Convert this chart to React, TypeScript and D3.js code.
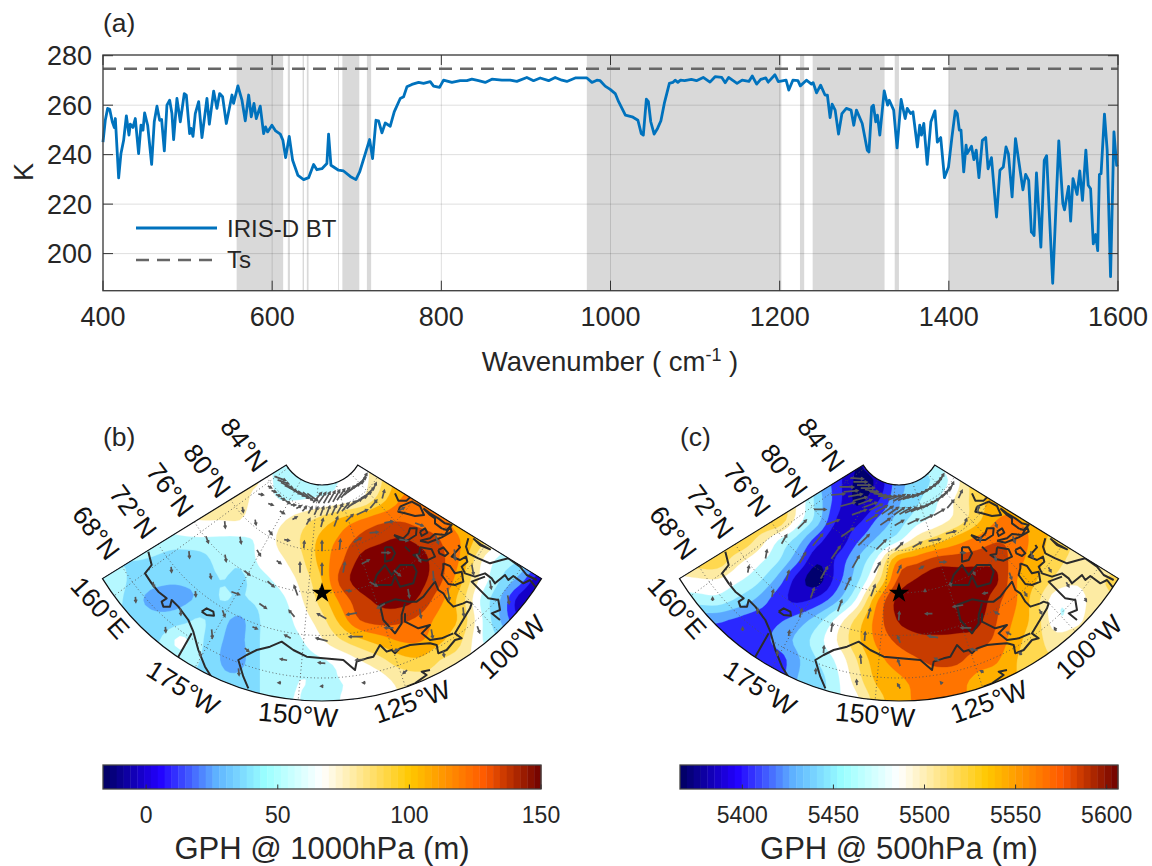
import React from "react";
import * as d3 from "d3";

// ---------- panel (a) data: wavenumber (cm-1) and brightness temperature (K) ----------
const wnLow = [400,402.7,405.5,407.9,411,413.4,414.6,418.5,421.2,424.4,427.6,430.7,432.3,435.4,438.2,442.1,444.9,447.3,449.2,452.8,457.5,460.6,463.8,467,469.3,472.5,475.6,478.8,481.5,483.5,487.4,491.4,496.1,498.5,502.4,504,506.4,509.1,513.1,517,522.9,525.7,530.8,534.7,537.9,541.4,545.8,552.5,554.4,559.5,564.3,568.2,572.2,575.3,578.5,581.2,585.9,589.9,592.2,594.6,599.7,604.1,609.6,612.7,615.9,620.2,624.2,630.5,637.2,643.1,649,652.9,658.8,664.7,666.7,669.5,678.5,684.4,692.3,699,703.4,715.2,718.7,722.7,725.8,729.8,733.7,739.6,744.3,751.4,755.4,759.3,765.2,773.1,779,786.9,790.8,797.9,802.6,812.5,822.3,830.2,836.1,844,851.9,859.8,871.6,881.4,889.3,901.1,909,916.9,926.8,934.6,942.5,948.4,958.3,972.1,978,983.9,987.8,993.7];
const btLow = [245.1,253.9,258.7,258.3,253.3,251,254.6,230.6,240.4,245.8,255.7,247.9,252.3,251,254.6,240.4,251.9,249.9,256.9,251.9,236.1,253.3,259.6,253.9,254.2,241.5,260,262,256.6,246.1,262.7,253.3,264.7,264.1,248.5,250.6,247.4,256.6,261.4,246.9,262.7,252.3,265.7,258.7,264.7,263.4,252.6,264.1,260.7,267.8,262,253.7,264.1,255.3,260.7,254.6,259.6,248.5,251.2,249.2,251.9,249.6,248.3,245.8,238.8,247.4,237.7,231.6,229.9,230.7,236,233.9,234.3,236.4,248.3,235.7,233.7,233.4,231.2,229.9,233,246.1,238.4,253.9,253.7,248.8,252.8,251.5,257.3,262.7,263.4,267.4,268.4,269.2,268.8,269.5,267.7,267.2,270.1,269.2,269.9,269.9,270.5,269.9,269.2,270.5,270.1,270.1,269.6,271.2,269.9,271,269.9,271.2,270.1,269.6,271,271,269.2,270.1,269.9,267.7];
const wnHigh = [999.6,1005.6,1009.6,1017.6,1025.6,1032.4,1036.4,1038.8,1042.4,1044.8,1047.6,1051.6,1055.6,1059.6,1063.6,1069.6,1073.6,1076.4,1079.6,1082.8,1087.6,1095.6,1101.6,1109.6,1117.6,1123.6,1131.6,1135.6,1139.6,1149.6,1155.6,1163.6,1167.6,1172.8,1177.6,1183.6,1186.4,1194.4,1198.4,1207.6,1210.8,1215.6,1221.6,1224.4,1231.6,1237.6,1239.6,1243.6,1248.4,1253.6,1256.4,1259.6,1262,1265.6,1269.6,1273.6,1278.8,1284.4,1287.6,1290.8,1297.6,1303.6,1305.6,1308.8,1310.8,1313.6,1315.6,1318.4,1323.6,1327.6,1329.6,1334.8,1338.8,1343.6,1348.4,1350.8,1354.8,1357.6,1362.8,1365.6,1367.6,1370.4,1374.4,1378.8,1383.6,1386.4,1390.4,1394.8,1399.6,1403.6,1407.6,1410,1412.4,1414.4,1417.6,1420.4,1421.6,1426.8,1429.6,1432.4,1435.6,1439.6,1443.6,1446.4,1450.4,1456.4,1460.4,1464.4,1467.6,1470.4,1474.8,1478.8,1487.6,1490.8,1494.4,1497.6,1499.6,1500.8,1503.6,1508.8,1512.8,1515.6,1522.8,1530,1534.8,1536.8,1541.6,1544,1546.8,1551.6,1554.8,1558,1562,1564.8,1567.6,1570.8,1573.6,1576,1578,1580,1584,1587.2,1591.2,1595.2,1598.4,1600];
const btHigh = [266.4,264.7,261.4,256,255.3,253.9,248.5,247.9,262.4,261.4,253.3,248.3,250.6,253.7,260.7,268.8,269.2,270.1,269.2,270.1,269.9,270.4,269.9,271.2,269.3,271.5,271.2,269.1,271.2,268.8,270.1,269.6,271.8,268.5,270.4,271,269.3,272.3,269.5,270.1,266.1,270.1,269.9,267.8,270.1,268.5,269.1,265,268.1,264.1,264.1,255,260.4,258,248.3,256.6,258.7,258,251.9,258,252.6,241.8,241.1,259.3,260,253.3,256,247.9,265.8,260,262,258,242.7,262.3,254.6,258.7,256.6,257.3,243.1,251.9,247.9,252.6,236.1,253.3,257.7,245.1,246.9,230.7,235,246.9,257.7,256.6,249.9,249.9,233,243.8,240.4,243.4,238,241.8,230.7,245.8,246.9,234.3,238.8,214.8,233.7,235,243.1,240.4,222.9,246.5,225.8,232,229.6,208.7,208,207.3,232.6,202.6,237.7,239.6,188,245.6,220.2,217.7,227.2,213.1,230.3,223.9,233.4,221.5,241.8,227.6,226.2,203.9,207.7,201.2,232,232.3,256.4,241.8,190.7,249.2,235.7,236];
const shadedWn = [[558,613],[618.5,621],[636,637.6],[641,643],[678,679],[683,703],[712,717],[972,1202],[1224,1229],[1239,1324],[1336,1341],[1400,1600]];
const surfaceTemp = 274.7;
const xTicks = [400,600,800,1000,1200,1400,1600];
const yTicks = [200,220,240,260,280];

// ---------- map data ----------
// Colour-band position of the height field on a regular map-unit grid (rows by y, columns by x)
const gridXStart = 30, gridYStart = 30, gridStep = 60;
const fieldB = [
[7,7,7,7,7,7,7,7,6.5,5.5,5,5,5.5,6.5,8,10,10,10,10,9,9,9,9],
[7,7,7,7,7,7,7,7,7,5.5,5.5,5.5,6,6.5,7.8,9.5,10,10,10,9,9,9,9],
[7,7,7,7,7,7,7,7.3,6.5,6,6,6.2,6.5,7,8.5,10,10.5,10.3,10,9,9,9,9],
[6.5,6.5,6.5,6.5,6.8,7,7,7,6.3,6.8,7.5,8.3,9.2,10,10.7,10.9,10.6,10.3,9.5,8.8,8,8,8],
[5.5,5.5,5.5,5.5,5.7,5.8,5.8,5.8,6.2,7.2,8,9.2,10.2,11.3,11.8,12.1,11.7,11,10,8.5,7,6,5.5],
[5,5,5,4.8,4.3,4.5,5.4,5.2,6.2,6.8,7.7,9.3,10.7,12.2,12.6,12.7,12.4,11.3,9.9,7.2,5.7,5,4],
[5.2,5.2,4.5,4.2,4.1,4.3,5,4.8,5.6,6.3,7.2,8.8,11.2,12.5,12.6,12.7,12.3,11.2,9.3,6.8,5,3.5,1.2],
[5.1,5.1,4.1,3.7,3.8,4.2,5,4.9,5.2,5.7,6.8,8.3,10.2,11.6,12.2,12.4,11.8,10.3,8.6,6,4,1.5,0.5],
[5,5,4.5,4.3,4.6,5.1,4.4,3.8,5,5.4,6.4,7.5,9.3,11,11.4,11.2,10.7,9.6,8.8,6.3,4,2,1],
[5,5,5,5,6.2,5.2,4.1,3.8,5,5.5,5.9,6.8,7.9,8.8,9.5,10.1,10.1,9.2,8.2,6.2,5,4,3],
[5,5,5,5,5.5,5,4,3.7,5,5.4,5.7,5.9,6.3,7,7.7,8.6,8.8,8,7.5,6.5,6,5,5],
[5,5,5,5,5,4.8,4.3,4.3,5,5.6,6,5.9,6,6.2,6.6,7.3,7.5,7.5,7,7,6,6,6],
[5,5,5,5,5,5,5,5,5,5.8,6,5.5,6,6.1,6.3,7,7,7,7,7,7,7,7],
];
const fieldC = [
[9,9,9,9,9,9,8,6,3,1,2.5,4,5,6,7.5,9,10,10,10,10,10,10,10],
[8.5,8.5,8.5,8.5,8.5,8.5,8,4.5,2.5,0.8,1.2,3.5,4.5,5.3,6.7,8.8,10,10,10,10,10,10,10],
[8.5,8.5,8.5,8.5,8.5,8.5,7,4.6,2.5,0.8,1.8,3.7,4.8,5.9,7.2,8.5,9.6,10,9.5,9,9,9,9],
[9,9,9,9,9,8.9,6.6,4.5,1.9,1.7,3.1,4.3,5.6,6.4,7.4,8.7,10,10,9.6,9,8.5,8.5,8.5],
[9,9,9,9,7.8,6.1,4.6,2.5,1.4,2.8,4.2,5.6,7.5,8.5,9.5,10.3,10.9,10.6,9.5,8.5,8,8,8],
[8.7,8.7,8.7,7.4,6.4,5.2,3.3,1.2,2.2,4,6.2,9.8,10.6,11.4,11.5,11.6,11.6,10.4,9.3,8.3,7.7,7.6,7.6],
[6.5,6.8,6.9,6.2,5.3,3.7,1.6,0.6,2.5,4.7,7.5,11,12.1,12.6,12.6,12.6,12.1,10,9,7.7,7.2,7.8,8.2],
[5.5,5.5,5.6,4.8,3.8,2.5,1.8,2.3,3.8,6.2,9.8,12.2,12.8,12.8,12.8,12.7,11.3,10,8.3,6.3,6.5,7.6,8],
[3.2,3.2,3.2,2.8,2.4,2.8,3.4,4.5,6.3,8.3,10.4,12,12.5,12.6,12.6,12.3,11,9.7,8.4,6.2,6.6,8,8],
[2.5,2.5,2.5,2.4,2.2,3.4,4.2,5.5,7,8.7,10.2,11.2,11.7,11.8,11.7,11.5,10.7,9.3,8.3,7.5,8,8,8],
[2.4,2.4,2.4,2.4,2.4,2.4,3.8,5,6.2,8,9.6,10.4,10.9,11.3,11.2,10.5,10.1,9,8.3,8,8,8,8],
[2.5,2.5,2.5,2.5,2.5,2.5,4,4.5,5.8,7.5,9.2,9.8,10.2,10.4,10.3,9.8,9.5,9,8.5,8,8,8,8],
[2.5,2.5,2.5,2.5,2.5,2.5,4,4.5,5.8,6.8,8.5,9.6,10.1,10.2,10.2,9.8,9.5,9,8.5,8,8,8,8],
];
const bandColors = ["#00006e","#1500c8","#2a28ff","#5aa8ff","#80dcff","#b5f8ff","#ffffff","#fdeba3","#ffd84f","#ffb000","#ff7400","#c83c00","#7f0000"];

// Coastlines in map units
const coasts: number[][][] = [
[[175,305],[185,345],[165,370],[185,400],[205,425],[230,445],[215,455],[220,470],[240,470],[245,450],[265,470],[295,510],[310,545],[325,600],[345,650],[370,690]],
[[305,550],[285,585],[265,620],[250,635]],
[[335,485],[350,475],[370,485],[372,497],[350,495],[335,485]],
[[475,715],[460,680],[445,630],[470,615],[500,600],[540,590],[575,575],[610,600],[650,620],[700,625],[760,630],[795,660],[800,635],[830,625],[850,620],[870,585],[890,605],[905,600],[915,610],[930,595],[960,585],[990,582],[1020,580],[1040,585],[1045,610],[1070,600],[1095,570],[1115,565],[1095,550],[1140,475],[1145,460],[1130,455],[1120,460],[1090,470],[1075,455],[1060,430],[1045,420],[1035,395],[1015,420],[1000,440],[980,455],[955,455],[915,448],[870,465],[880,510],[915,550],[935,520],[935,495],[945,460]],
[[945,490],[945,515],[985,535],[1020,525],[995,550],[1020,570],[1055,565],[1090,550]],
[[950,710],[975,700],[1010,675],[995,665],[1020,660]],
[[915,130],[925,152],[950,152],[960,142]],
[[930,170],[965,155],[990,168],[1002,195],[975,198],[945,190],[925,185],[930,170]],
[[1000,175],[1020,195],[1035,205],[1035,220],[1055,235],[1070,240],[1085,225],[1065,220],[1045,205],[1020,190],[1000,175]],
[[912,255],[940,265],[955,250],[960,235],[980,235],[978,255],[955,270],[930,270],[912,255]],
[[990,245],[1005,235],[1012,248],[995,258],[990,245]],
[[990,272],[1020,265],[1035,252],[1065,255],[1080,230],[1085,245],[1055,262],[1035,270],[1015,278],[990,272]],
[[990,292],[1025,298],[1035,320],[1010,332],[990,328],[970,315],[988,312],[990,292]],
[[1045,300],[1060,292],[1075,310],[1065,318],[1048,310],[1045,300]],
[[945,290],[960,305]],
[[885,292],[905,292],[915,310],[905,330],[885,335],[885,292]],
[[850,405],[860,375],[885,345],[905,375],[930,345],[970,345],[980,365],[970,400],[930,410],[915,378],[905,405],[850,405]],
[[1060,340],[1080,348],[1095,370],[1115,365],[1120,395],[1095,405],[1075,402],[1055,375],[1060,355],[1060,340]],
[[1135,265],[1128,290],[1135,310],[1165,325],[1200,340],[1235,330],[1255,325],[1290,350],[1310,375],[1340,390]],
[[1150,265],[1170,285],[1200,298],[1175,285],[1155,270]],
[[1105,285],[1110,292],[1085,320],[1110,330],[1128,320],[1132,335],[1115,350],[1125,370],[1155,380],[1185,370],[1205,385],[1215,400],[1245,375],[1255,390],[1270,378],[1300,400],[1320,390],[1340,415]],
[[1185,380],[1145,395],[1180,430],[1195,445],[1225,450],[1230,480],[1205,490],[1230,510]],
];
// Wind arrows: by ring (map-unit radius from the pole) and spoke (degrees from the central meridian)
const windRings = [240,310,380,450,520,590,660,730];
const windSpokes = [-50,-40,-30,-20,-10,0,10,20,30,40,50];
const windDirB = [
[100,110,120,60,30,15,20,45,65,40,15],
[170,170,140,100,5,0,5,60,85,80,60],
[175,170,150,125,0,0,10,60,90,100,110],
[160,170,130,130,-20,-30,100,120,130,150,160],
[175,170,110,125,-40,-60,-100,-120,170,175,175],
[175,175,160,115,-60,-75,-90,-90,170,170,170],
[170,175,175,130,-80,-85,-95,-110,170,175,170],
[175,175,175,175,-90,-90,-90,-130,170,160,170],
];
const windLenB = [
[15,15,15,15,20,25,30,30,35,30,25],
[15,15,15,15,20,30,30,25,25,25,20],
[20,20,20,15,30,35,30,25,25,25,25],
[20,20,20,25,30,25,15,25,25,25,25],
[20,15,25,25,25,30,30,25,25,30,30],
[15,15,20,15,20,35,40,25,25,35,30],
[15,20,25,15,20,20,25,15,25,25,25],
[15,15,15,20,8,6,8,15,15,20,25],
];
const windDirC = [
[85,75,70,60,55,60,65,65,60,40,25],
[90,70,55,45,45,45,60,80,75,20,10],
[45,40,35,30,30,25,60,90,90,10,160],
[30,30,30,25,20,10,0,160,150,170,160],
[10,15,20,20,15,5,-90,-100,-100,160,160],
[10,10,15,10,5,-20,-80,-90,-60,150,150],
[5,5,10,5,-5,-20,-60,-80,-60,150,150],
[0,0,5,0,-5,-30,-40,-60,-60,-30,150],
];
const windLenC = [
[40,45,45,40,35,30,35,40,35,30,25],
[35,40,45,45,40,30,30,35,30,20,20],
[35,45,45,40,35,25,15,20,15,15,15],
[30,35,40,40,35,20,5,10,10,15,20],
[25,30,30,35,30,25,20,30,15,20,20],
[20,20,25,25,25,20,30,30,15,15,15],
[10,15,15,20,25,20,15,20,15,15,15],
[10,10,15,15,15,15,5,10,10,10,10],
];
// Denser arrows close to the pole
const innerRings = [165,205];
const innerSpokes = [-50,-45,-40,-35,-30,-25,-20,-15,-10,-5,0,5,10,15,20,25,30,35,40,45,50];
const innerDirB = [
[110,110,115,115,120,120,125,130,125,40,35,30,30,30,35,40,50,55,60,50,30],
[120,110,110,115,120,90,60,40,30,25,20,20,25,30,40,50,60,65,60,45,25],
];
const innerLenB = [
[35,35,38,38,38,38,38,38,38,38,38,38,40,40,40,40,42,42,40,38,32],
[12,14,14,14,14,14,16,18,22,25,28,30,32,32,32,34,35,35,35,30,25],
];
const innerDirC = [
[95,90,90,90,100,105,100,90,80,70,60,65,70,70,65,60,55,55,50,40,30],
[90,85,80,75,70,70,65,60,55,55,55,60,65,65,65,60,60,55,50,40,25],
];
const innerLenC = [
[38,40,40,40,40,40,40,40,40,40,40,38,38,38,38,38,38,38,36,34,30],
[40,42,42,42,42,42,42,40,40,38,38,38,38,38,38,38,38,38,36,34,30],
];
const latCircles = [68,72,76,80,84];
const lonLines = [-200,-175,-150,-125,-100];
const latLabels = ["68°N","72°N","76°N","80°N","84°N"];
const latLabelX = [18,129,240,351,462];
const latLabelY = [249,186,120,63,-15];
const lonLabels = ["160°E","175°W","150°W","125°W","100°W"];
const lonLabelX = [30,279,624,966,1266];
const lonLabelY = [474,714,795,756,591];
const lonLabelRot = [48,32,5,-20,-43];
const starMap = [696,429];

const cbTicksB = [0,50,100,150];
const cbTicksC = [5400,5450,5500,5550,5600];
const cmapStops = [0,0.13,0.26,0.37,0.5,0.7,0.87,1];
const cmapColors = ["#00005f","#2200ff","#5fb4ff","#99ffff","#ffffff","#ffc800","#ff5a00","#6e0000"];

const FONT = "'Liberation Sans', Arial, sans-serif";
const INK = "#262626";

// Map geometry in map units
const poleX = 696, poleY = -21, rInner = 126, rOuter = 774, halfAngle = 58.3;
const radiusOfLat = d3.scaleLinear().domain([68,84]).range([705,195]);
const angleOfLon = d3.scaleLinear().domain([-200,-100]).range([-53.7,43.1]);
const rad = (d: number) => (d * Math.PI) / 180;

function smoothField(f: number[][], k: number) {
  const rows = f.length, cols = f[0].length;
  const at = (j: number, i: number) => f[Math.max(0, Math.min(rows - 1, j))][Math.max(0, Math.min(cols - 1, i))];
  const cr = (p0: number, p1: number, p2: number, p3: number, t: number) =>
    0.5 * (2 * p1 + (p2 - p0) * t + (2 * p0 - 5 * p1 + 4 * p2 - p3) * t * t + (3 * p1 - p0 - 3 * p2 + p3) * t * t * t);
  const w = (cols - 1) * k + 1, h = (rows - 1) * k + 1;
  const out = new Array(w * h);
  for (let y = 0; y < h; y++) {
    const j = Math.floor(y / k), ty = y / k - j;
    for (let x = 0; x < w; x++) {
      const i = Math.floor(x / k), tx = x / k - i;
      const r = [-1, 0, 1, 2].map((dj) => cr(at(j + dj, i - 1), at(j + dj, i), at(j + dj, i + 1), at(j + dj, i + 2), tx));
      out[y * w + x] = cr(r[0], r[1], r[2], r[3], ty);
    }
  }
  return { values: out, w, h };
}

function MapPanel({ id, x0, field, dirs, lens, inDirs, inLens }: { id: string; x0: number; field: number[][]; dirs: number[][]; lens: number[][]; inDirs: number[][]; inLens: number[][] }) {
  const sx = d3.scaleLinear().domain([0, 1410]).range([x0, x0 + 470]);
  const sy = d3.scaleLinear().domain([0, 840]).range([450, 730]);
  const k = 4;
  const { values, w, h } = smoothField(field, k);
  const contours = d3.contours().size([w, h]).smooth(true).thresholds(d3.range(1, 13))(values);
  const tf = d3.geoTransform({
    point(x: number, y: number) {
      (this as any).stream.point(
        sx(gridXStart + ((x - 0.5) * gridStep) / k),
        sy(gridYStart + ((y - 0.5) * gridStep) / k)
      );
    },
  });
  const gp = d3.geoPath(tf as any);
  const toPx = (r: number, a: number): [number, number] => [sx(poleX + r * Math.sin(rad(a))), sy(poleY + r * Math.cos(rad(a)))];
  const scale = 1 / 3;
  const arc = (r: number, a0: number, a1: number) => {
    const p0 = toPx(r, a0), p1 = toPx(r, a1);
    return `M${p0[0]},${p0[1]}A${r * scale},${r * scale} 0 0 ${a1 > a0 ? 0 : 1} ${p1[0]},${p1[1]}`;
  };
  const c1 = toPx(rOuter, -halfAngle), c2 = toPx(rOuter, halfAngle), c3 = toPx(rInner, halfAngle), c4 = toPx(rInner, -halfAngle);
  const sector =
    `M${c1[0]},${c1[1]}A${rOuter * scale},${rOuter * scale} 0 0 0 ${c2[0]},${c2[1]}` +
    `L${c3[0]},${c3[1]}A${rInner * scale},${rInner * scale} 0 0 1 ${c4[0]},${c4[1]}Z`;
  const line = d3.line<number[]>().x((d) => sx(d[0])).y((d) => sy(d[1]));
  const star = d3.symbol().type(d3.symbolStar).size(130)();
  const arrow = (key: string, r: number, a: number, deg: number, lenUnits: number) => {
    const dir = rad(deg);
    const len = lenUnits * scale;
    const p = toPx(r, a);
    const dx = Math.sin(dir) * len * 0.5, dy = -Math.cos(dir) * len * 0.5;
    const tip = [p[0] + dx, p[1] + dy];
    const head = 2.6;
    const h1 = [tip[0] - head * Math.sin(dir - 0.5), tip[1] + head * Math.cos(dir - 0.5)];
    const h2 = [tip[0] - head * Math.sin(dir + 0.5), tip[1] + head * Math.cos(dir + 0.5)];
    return (
      <path key={key}
        d={`M${p[0] - dx},${p[1] - dy}L${tip[0]},${tip[1]}M${h1[0]},${h1[1]}L${tip[0]},${tip[1]}L${h2[0]},${h2[1]}`}
        fill="none" stroke="#555" strokeWidth={1.7} />
    );
  };
  return (
    <g>
      <defs>
        <clipPath id={id}><path d={sector} /></clipPath>
      </defs>
      <g clipPath={`url(#${id})`}>
        <rect x={x0} y={450} width={470} height={280} fill={bandColors[0]} />
        {contours.map((c, i) => (
          <path key={i} d={gp(c as any) || ""} fill={bandColors[i + 1]} stroke={bandColors[i + 1]} strokeWidth={0.3} />
        ))}
        {latCircles.map((lat) => (
          <path key={lat} d={arc(radiusOfLat(lat), -halfAngle, halfAngle)} fill="none" stroke="#555" strokeWidth={0.9} strokeDasharray="1 2.5" />
        ))}
        {lonLines.map((lon) => {
          const a = angleOfLon(lon);
          const p = toPx(rInner, a), q = toPx(rOuter, a);
          return <line key={lon} x1={p[0]} y1={p[1]} x2={q[0]} y2={q[1]} stroke="#555" strokeWidth={0.9} strokeDasharray="1 2.5" />;
        })}
        {coasts.map((c, i) => (
          <path key={i} d={line(c) || ""} fill="none" stroke="#2b2b2b" strokeWidth={2} strokeLinejoin="round" />
        ))}
        {innerRings.map((r, ri) => innerSpokes.map((a, si) => arrow(`i${ri}-${si}`, r, a, inDirs[ri][si], inLens[ri][si])))}
        {windRings.map((r, ri) => windSpokes.map((a, si) => arrow(`o${ri}-${si}`, r, a, dirs[ri][si], lens[ri][si])))}
      </g>
      <path d={sector} fill="none" stroke="#111" strokeWidth={1.2} />
      <path d={star || ""} transform={`translate(${sx(starMap[0])},${sy(starMap[1])})`} fill="#000" />
      {latLabels.map((t, i) => (
        <text key={t} transform={`translate(${sx(latLabelX[i])},${sy(latLabelY[i])}) rotate(53)`} fontSize={26.5} fontFamily={FONT} fill="#111" textAnchor="middle" dominantBaseline="central">{t}</text>
      ))}
      {lonLabels.map((t, i) => (
        <text key={t} transform={`translate(${sx(lonLabelX[i])},${sy(lonLabelY[i])}) rotate(${lonLabelRot[i]})`} fontSize={26.5} fontFamily={FONT} fill="#111" textAnchor="middle" dominantBaseline="central">{t}</text>
      ))}
    </g>
  );
}

function Colorbar({ x0, x1, vmin, vmax, ticks, title, titleX }: { x0: number; x1: number; vmin: number; vmax: number; ticks: number[]; title: string; titleX: number }) {
  const s = d3.scaleLinear().domain([vmin, vmax]).range([x0, x1]);
  const cmap = d3.scaleLinear<string>().domain(cmapStops).range(cmapColors).interpolate(d3.interpolateRgb as any);
  const n = 64;
  const w = (x1 - x0) / n;
  return (
    <g>
      {d3.range(n).map((i) => (
        <rect key={i} x={x0 + i * w} y={765} width={w + 0.4} height={24} fill={cmap((i + 0.5) / n)} />
      ))}
      <rect x={x0} y={765} width={x1 - x0} height={24} fill="none" stroke="#444" strokeWidth={1.3} />
      {ticks.map((t) => (
        <g key={t}>
          <line x1={s(t)} x2={s(t)} y1={789} y2={784.5} stroke="#333" strokeWidth={1} />
          <text x={s(t)} y={823} textAnchor="middle" fontSize={23} fontFamily={FONT} fill={INK}>{t}</text>
        </g>
      ))}
      <text x={titleX} y={859} textAnchor="middle" fontSize={31} fontFamily={FONT} fill={INK}>{title}</text>
    </g>
  );
}

export default function App() {
  const x = d3.scaleLinear().domain([400, 1600]).range([103, 1118]);
  const y = d3.scaleLinear().domain([185, 280]).range([290.7, 55.7]);
  const wn = [...wnLow, ...wnHigh];
  const bt = [...btLow, ...btHigh];
  const pts = wn.map((w, i) => [w, bt[i]]);
  const path = d3.line<number[]>().x((d) => x(d[0])).y((d) => y(d[1]))(pts) || "";
  const bottom = y(185);
  return (
    <svg width={1152} height={866} style={{ position: "absolute", left: 0, top: 0, background: "#fff" }}>
      {shadedWn.map((s, i) => (
        <rect key={i} x={x(s[0])} y={55} width={x(s[1]) - x(s[0])} height={bottom - 55} fill="#d9d9d9" />
      ))}
      {xTicks.slice(1, -1).map((t) => (
        <line key={t} x1={x(t)} x2={x(t)} y1={55} y2={bottom} stroke="#000" strokeOpacity={0.13} strokeWidth={1} />
      ))}
      {yTicks.slice(0, -1).map((t) => (
        <line key={t} x1={103} x2={1118} y1={y(t)} y2={y(t)} stroke="#000" strokeOpacity={0.13} strokeWidth={1} />
      ))}
      <path d={path} fill="none" stroke="#0072BD" strokeWidth={2.8} strokeLinejoin="round" />
      <line x1={103} x2={1118} y1={y(surfaceTemp)} y2={y(surfaceTemp)} stroke="#666" strokeWidth={2.6} strokeDasharray="13 8" />
      <rect x={103} y={55} width={1015} height={bottom - 55} fill="none" stroke="#444" strokeWidth={1.4} />
      {xTicks.map((t) => (
        <g key={t}>
          <line x1={x(t)} x2={x(t)} y1={bottom} y2={bottom - 10} stroke="#333" strokeWidth={1} />
          <line x1={x(t)} x2={x(t)} y1={55} y2={65} stroke="#333" strokeWidth={1} />
          <text x={x(t)} y={326} textAnchor="middle" fontSize={27} fontFamily={FONT} fill={INK}>{t}</text>
        </g>
      ))}
      {yTicks.map((t) => (
        <g key={t}>
          <line x1={103} x2={113} y1={y(t)} y2={y(t)} stroke="#333" strokeWidth={1} />
          <line x1={1108} x2={1118} y1={y(t)} y2={y(t)} stroke="#333" strokeWidth={1} />
          <text x={92} y={y(t) + 9.5} textAnchor="end" fontSize={27} fontFamily={FONT} fill={INK}>{t}</text>
        </g>
      ))}
      <text transform="translate(33,172) rotate(-90)" textAnchor="middle" fontSize={27} fontFamily={FONT} fill={INK}>K</text>
      <text x={610} y={371} textAnchor="middle" fontSize={27.5} fontFamily={FONT} fill={INK}>
        Wavenumber ( cm<tspan fontSize={18} dy={-10}>-1</tspan><tspan dy={10}> )</tspan>
      </text>
      <line x1={136} x2={217} y1={228} y2={228} stroke="#0072BD" strokeWidth={2.8} />
      <text x={227} y={237} fontSize={24} fontFamily={FONT} fill={INK}>IRIS-D BT</text>
      <line x1={136} x2={213} y1={260} y2={260} stroke="#666" strokeWidth={2.6} strokeDasharray="13 8" />
      <text x={227} y={268} fontSize={24} fontFamily={FONT} fill={INK}>Ts</text>
      <text x={103} y={32} fontSize={26.5} fontFamily={FONT} fill={INK}>(a)</text>
      <text x={103} y={446} fontSize={26.5} fontFamily={FONT} fill={INK}>(b)</text>
      <text x={680} y={446} fontSize={26.5} fontFamily={FONT} fill={INK}>(c)</text>
      <MapPanel id="mapB" x0={90} field={fieldB} dirs={windDirB} lens={windLenB} inDirs={innerDirB} inLens={innerLenB} />
      <MapPanel id="mapC" x0={667} field={fieldC} dirs={windDirC} lens={windLenC} inDirs={innerDirC} inLens={innerLenC} />
      <Colorbar x0={103} x1={541} vmin={-16.4} vmax={150} ticks={cbTicksB} title="GPH @ 1000hPa (m)" titleX={322} />
      <Colorbar x0={680} x1={1118} vmin={5365.8} vmax={5606.2} ticks={cbTicksC} title="GPH @ 500hPa (m)" titleX={899} />
    </svg>
  );
}
